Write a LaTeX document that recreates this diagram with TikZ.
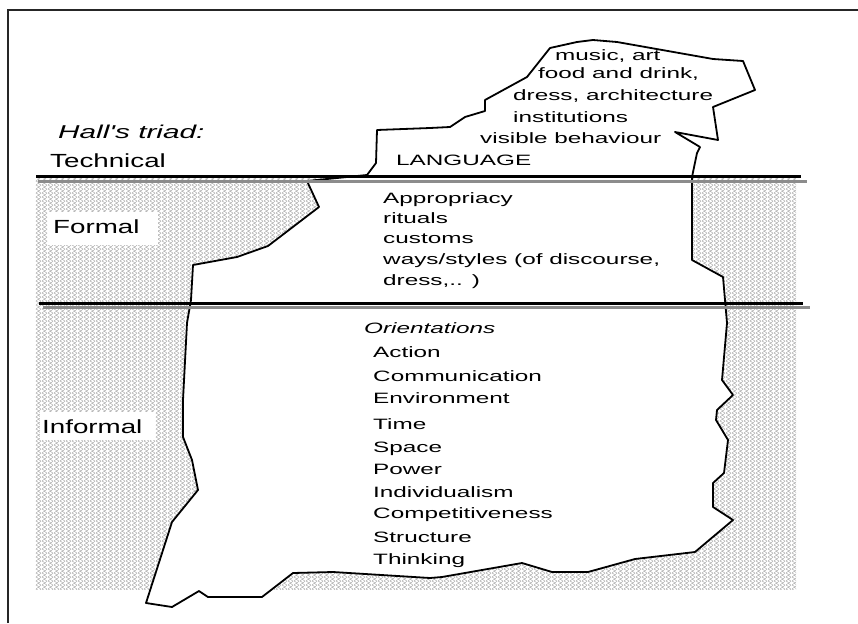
\documentclass[tikz,border=0pt]{standalone}
\usepackage{fontspec}
\setmainfont{Liberation Sans}
\newfontfamily\bodyf{Liberation Sans}[FakeStretch=1.62]
\newfontfamily\labf{Liberation Sans}[FakeStretch=1.46]
\newfontfamily\hallf{Liberation Sans}[FakeStretch=1.6]
\usetikzlibrary{patterns}
\pgfdeclarepatternformonly{scales}{\pgfqpoint{0pt}{0pt}}{\pgfqpoint{6pt}{4.4pt}}{\pgfqpoint{6pt}{4.4pt}}{%
  \pgfsetlinewidth{0.4pt}%
  \pgfpathmoveto{\pgfqpoint{0pt}{0pt}}%
  \pgfpathcurveto{\pgfqpoint{2.5pt}{0.5pt}}{\pgfqpoint{3.5pt}{3.9pt}}{\pgfqpoint{6pt}{4.4pt}}%
  \pgfpathmoveto{\pgfqpoint{0pt}{4.4pt}}%
  \pgfpathcurveto{\pgfqpoint{2.5pt}{4.6pt}}{\pgfqpoint{3.5pt}{-0.2pt}}{\pgfqpoint{6pt}{0pt}}%
  \pgfusepath{stroke}}
\tikzset{
  body/.style={anchor=base west, inner sep=0pt, font=\bodyf\fontsize{15}{18}\selectfont},
  lab/.style={anchor=base west, inner sep=0pt, font=\labf\fontsize{19}{22}\selectfont},
  hall/.style={anchor=base west, inner sep=0pt, font=\hallf\itshape\fontsize{18.6}{22}\selectfont},
  blackline/.style={line width=3pt, black},
  grayline/.style={line width=3pt, black!45},
  berg/.style={draw=black, fill=white, line width=1.8pt, line join=round},
  hatch/.style={pattern=scales, pattern color=black!38},
  labbox/.style={fill=white, draw=none},
  frame/.style={line width=1.4pt, black!85}
}
\begin{document}
\begin{tikzpicture}[x=1pt, y=-1pt]
\useasboundingbox (0,0) rectangle (858,623);
% frame
\draw[frame] (8,623) -- (8,10) -- (858,10);
% hatched sea
\fill[hatch] (35,178) rectangle (796,589);
\fill[labbox] (48,212) rectangle (158,245);
\fill[labbox] (40,412) rectangle (155,440);
% iceberg
\draw[berg] (307,181) -- (367,175) -- (376,163) -- (377,130) -- (430,128) -- (450,127)
  -- (465,117) -- (485,111) -- (485,100) -- (527,77) -- (550,48) -- (577,42) -- (593,40)
  -- (617,42) -- (713,59) -- (743,61) -- (755,90) -- (713,107) -- (718,140) -- (675,132)
  -- (700,147) -- (697,153) -- (692,177) -- (692,260) -- (723,277) -- (725,300) -- (727,323)
  -- (722,380) -- (733,395) -- (717,410) -- (716,420) -- (728,440) -- (724,473) -- (713,483)
  -- (713,507) -- (733,520) -- (695,552) -- (635,559) -- (588,572) -- (552,572) -- (522,563)
  -- (442,577) -- (430,578) -- (333,572) -- (293,573) -- (262,597) -- (208,597) -- (199,591)
  -- (172,607) -- (146,603) -- (172,522) -- (198,490) -- (192,460) -- (183,437) -- (183,400)
  -- (187,323) -- (191,300) -- (193,265) -- (237,257) -- (268,246) -- (319,207) -- cycle;
% water lines
\draw[grayline] (38,181) -- (807,181);
\draw[blackline] (36,176) -- (801,176);
\draw[grayline] (43,307) -- (810,307);
\draw[blackline] (39,303) -- (803,303);
% labels
\node[hall] (hall) at (58,138) {Hall's triad:};
\node[lab] (tech) at (50,167) {Technical};
\node[lab] (formal) at (53,233) {Formal};
\node[lab] (informal) at (42,433) {Informal};
% technical level
\node[body] (music) at (555,61) {music, art};
\node[body] (food) at (538,79) {food and drink,};
\node[body] (dress) at (513,101) {dress, architecture};
\node[body] (inst) at (513,122) {institutions};
\node[body] (vis) at (480,143) {visible behaviour};
\node[body] (lang) at (396,165) {LANGUAGE};
% formal level
\node[body] (appr) at (383,203) {Appropriacy};
\node[body] (rit) at (383,223) {rituals};
\node[body] (cust) at (383,243) {customs};
\node[body] (ways) at (383,264) {ways/styles (of discourse,};
\node[body] (dress2) at (383,285) {dress,.. )};
% informal level
\node[body, font=\bodyf\itshape\fontsize{15}{18}\selectfont] (orient) at (364,333) {Orientations};
\node[body] (o1) at (373,357) {Action};
\node[body] (o2) at (373,381) {Communication};
\node[body] (o3) at (373,403) {Environment};
\node[body] (o4) at (373,429) {Time};
\node[body] (o5) at (373,452) {Space};
\node[body] (o6) at (373,474) {Power};
\node[body] (o7) at (373,497) {Individualism};
\node[body] (o8) at (373,518) {Competitiveness};
\node[body] (o9) at (373,542) {Structure};
\node[body] (o10) at (373,564) {Thinking};
\end{tikzpicture}
\end{document}
